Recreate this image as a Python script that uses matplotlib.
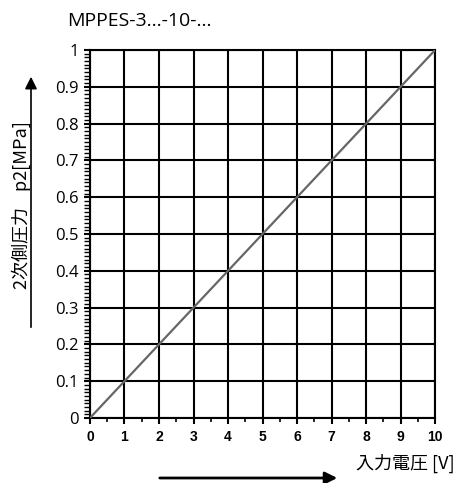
import matplotlib
matplotlib.use('Agg')
import matplotlib.pyplot as plt
from matplotlib.ticker import MultipleLocator

# 入力電圧 [V] と 2次側圧力 [MPa]
voltage = [0, 1, 2, 3, 4, 5, 6, 7, 8, 9, 10]
pressure = [0, 0.1, 0.2, 0.3, 0.4, 0.5, 0.6, 0.7, 0.8, 0.9, 1.0]
x_ticks = [0, 1, 2, 3, 4, 5, 6, 7, 8, 9, 10]
y_ticks = [0, 0.1, 0.2, 0.3, 0.4, 0.5, 0.6, 0.7, 0.8, 0.9, 1]
y_labels = ['0', '0.1', '0.2', '0.3', '0.4', '0.5', '0.6', '0.7', '0.8', '0.9', '1']

jp = ['Noto Sans CJK JP', 'DejaVu Sans']

fig = plt.figure(figsize=(4.59, 4.83), dpi=100)
ax = fig.add_axes([0.196, 0.1346, 0.752, 0.7619])

ax.plot(voltage, pressure, color='#666666', linewidth=1.6, zorder=3)

ax.set_xlim(0, 10)
ax.set_ylim(0, 1)
ax.set_xticks(x_ticks)
ax.set_yticks(y_ticks)
ax.set_yticklabels(y_labels, family='Open Sans', fontsize=12)
ax.set_xticklabels([str(v) for v in x_ticks], family='Liberation Sans',
                   fontweight='bold', fontsize=10)
ax.xaxis.set_minor_locator(MultipleLocator(0.5))
ax.yaxis.set_minor_locator(MultipleLocator(0.01))
ax.tick_params(axis='both', which='major', direction='out', length=4,
               width=1.5, color='black')
ax.tick_params(axis='x', which='major', pad=5)
ax.tick_params(axis='y', which='major', pad=4)
ax.tick_params(axis='x', which='minor', direction='out', length=3, width=1.2)
ax.tick_params(axis='y', which='minor', direction='out', length=4, width=1.0)

ax.grid(True, which='major', color='black', linewidth=1.5)
for s in ax.spines.values():
    s.set_linewidth(1.5)
    s.set_color('black')

fig.text(67 / 459, 1 - 21 / 483, 'MPPES-3...-10-...', family='Open Sans',
         fontsize=14, ha='left', va='center')

# y軸ラベルと矢印
fig.text(21 / 459, 1 - 205 / 483, '2次側圧力    p2[MPa]', family=jp,
         fontsize=13, rotation=90, ha='center', va='center')
fig.add_artist(matplotlib.patches.FancyArrowPatch(
    (31 / 459, 1 - 330 / 483), (31 / 459, 1 - 74 / 483),
    transform=fig.transFigure, arrowstyle='-|>', mutation_scale=18,
    color='black', linewidth=1.2))

# x軸ラベルと矢印
fig.text(405 / 459, 1 - 463 / 483, '入力電圧 [V]', family=jp,
         fontsize=13, ha='center', va='center')
fig.add_artist(matplotlib.patches.FancyArrowPatch(
    (157 / 459, 1 - 478 / 483), (340 / 459, 1 - 478 / 483),
    transform=fig.transFigure, arrowstyle='-|>', mutation_scale=18,
    color='black', linewidth=2))

fig.savefig('out.png', dpi=100)
